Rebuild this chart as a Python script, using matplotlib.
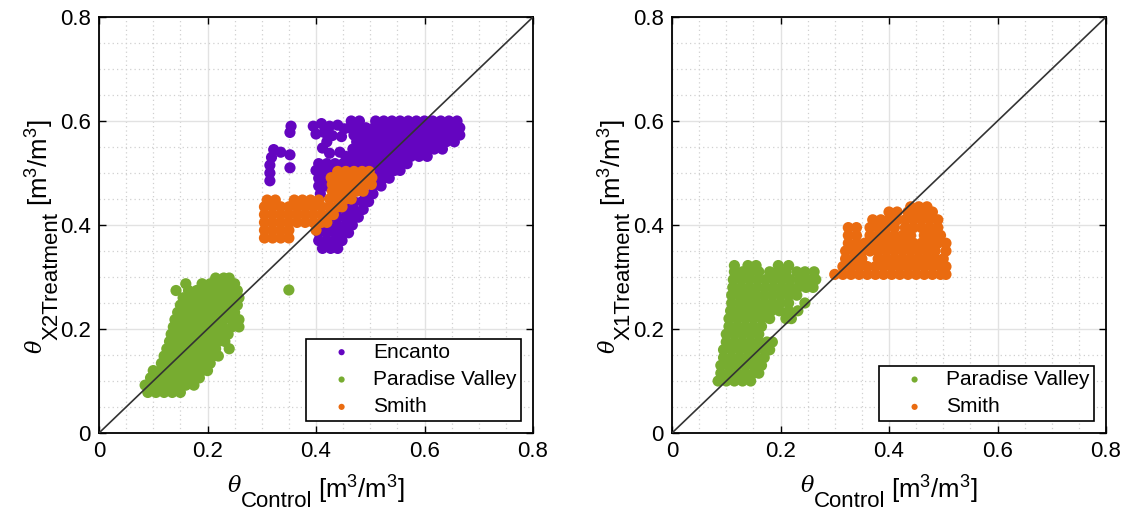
import matplotlib
matplotlib.use("Agg")
import matplotlib.pyplot as plt
from matplotlib.ticker import MultipleLocator, FormatStrFormatter
from matplotlib.transforms import IdentityTransform

plt.rcParams['font.family'] = ['Liberation Sans', 'DejaVu Sans']
plt.rcParams['mathtext.fontset'] = 'custom'
plt.rcParams['mathtext.rm'] = 'Liberation Sans'
plt.rcParams['mathtext.it'] = 'Liberation Sans:italic'

# soil moisture, control plot vs X2 treatment (m3/m3)
encanto_x2 = [
    # small column and stray points left of the main cloud
    (0.315, 0.485), (0.315, 0.500), (0.315, 0.515), (0.318, 0.530), (0.322, 0.545), (0.335, 0.540),
    (0.352, 0.510), (0.352, 0.535), (0.352, 0.578), (0.354, 0.590),
    # upper left group
    (0.395, 0.590), (0.410, 0.595), (0.425, 0.590), (0.440, 0.592), (0.452, 0.585),
    (0.400, 0.575), (0.415, 0.578), (0.430, 0.572), (0.447, 0.570),
    (0.412, 0.548), (0.425, 0.538), (0.444, 0.540), (0.420, 0.560),
    # main band
    (0.465, 0.600), (0.480, 0.600), (0.510, 0.600), (0.525, 0.600), (0.540, 0.600), (0.555, 0.600),
    (0.570, 0.600), (0.585, 0.600), (0.600, 0.600), (0.615, 0.600), (0.630, 0.600), (0.645, 0.600), (0.660, 0.600),
    (0.462, 0.587), (0.477, 0.587), (0.492, 0.587), (0.507, 0.587), (0.522, 0.587), (0.537, 0.587), (0.552, 0.587),
    (0.567, 0.587), (0.582, 0.587), (0.597, 0.587), (0.612, 0.587), (0.627, 0.587), (0.642, 0.587), (0.657, 0.587), (0.665, 0.587),
    (0.470, 0.573), (0.485, 0.573), (0.500, 0.573), (0.515, 0.573), (0.530, 0.573), (0.545, 0.573), (0.560, 0.573),
    (0.575, 0.573), (0.590, 0.573), (0.605, 0.573), (0.620, 0.573), (0.635, 0.573), (0.650, 0.573), (0.665, 0.573),
    (0.475, 0.560), (0.490, 0.560), (0.505, 0.560), (0.520, 0.560), (0.535, 0.560), (0.550, 0.560), (0.565, 0.560),
    (0.580, 0.560), (0.595, 0.560), (0.610, 0.560), (0.625, 0.560), (0.640, 0.560), (0.655, 0.560),
    (0.468, 0.546), (0.483, 0.546), (0.498, 0.546), (0.513, 0.546), (0.528, 0.546), (0.543, 0.546), (0.558, 0.546),
    (0.573, 0.546), (0.588, 0.546), (0.603, 0.546), (0.618, 0.546), (0.633, 0.546),
    (0.455, 0.532), (0.470, 0.532), (0.485, 0.532), (0.500, 0.532), (0.515, 0.532), (0.530, 0.532), (0.545, 0.532),
    (0.560, 0.532), (0.575, 0.532), (0.590, 0.532), (0.605, 0.532),
    (0.405, 0.518), (0.420, 0.518), (0.435, 0.518), (0.450, 0.518), (0.465, 0.518), (0.480, 0.518), (0.495, 0.518),
    (0.510, 0.518), (0.525, 0.518), (0.540, 0.518), (0.555, 0.518), (0.568, 0.518),
    (0.400, 0.505), (0.415, 0.505), (0.430, 0.505), (0.500, 0.505), (0.515, 0.505), (0.530, 0.505), (0.545, 0.505), (0.555, 0.505),
    (0.405, 0.490), (0.420, 0.490), (0.510, 0.490), (0.525, 0.490), (0.535, 0.490),
    (0.405, 0.475), (0.418, 0.475), (0.505, 0.475), (0.520, 0.475),
    (0.408, 0.460), (0.490, 0.460), (0.505, 0.460),
    # below the Smith points
    (0.455, 0.445), (0.470, 0.445), (0.485, 0.445), (0.497, 0.445),
    (0.440, 0.430), (0.455, 0.430), (0.470, 0.430), (0.487, 0.430),
    (0.425, 0.415), (0.440, 0.415), (0.455, 0.415), (0.468, 0.415), (0.478, 0.415),
    (0.410, 0.400), (0.425, 0.400), (0.440, 0.400), (0.455, 0.400), (0.467, 0.400),
    (0.405, 0.385), (0.420, 0.385), (0.435, 0.385), (0.450, 0.385), (0.460, 0.385),
    (0.405, 0.370), (0.420, 0.370), (0.435, 0.370), (0.448, 0.370),
    (0.412, 0.355), (0.427, 0.355), (0.440, 0.355),
]

paradise_x2 = [
    (0.090, 0.078), (0.105, 0.078), (0.120, 0.078), (0.135, 0.078), (0.150, 0.078),
    (0.085, 0.092), (0.100, 0.092), (0.115, 0.092), (0.130, 0.092), (0.145, 0.092), (0.160, 0.092), (0.175, 0.092),
    (0.095, 0.106), (0.110, 0.106), (0.125, 0.106), (0.140, 0.106), (0.155, 0.106), (0.170, 0.106), (0.185, 0.106),
    (0.100, 0.120), (0.115, 0.120), (0.130, 0.120), (0.145, 0.120), (0.160, 0.120), (0.175, 0.120), (0.190, 0.120), (0.200, 0.120),
    (0.115, 0.134), (0.130, 0.134), (0.145, 0.134), (0.160, 0.134), (0.175, 0.134), (0.190, 0.134), (0.205, 0.134),
    (0.120, 0.148), (0.135, 0.148), (0.150, 0.148), (0.165, 0.148), (0.180, 0.148), (0.195, 0.148), (0.210, 0.148), (0.220, 0.148),
    (0.125, 0.162), (0.140, 0.162), (0.155, 0.162), (0.170, 0.162), (0.185, 0.162), (0.200, 0.162), (0.215, 0.162), (0.240, 0.162),
    (0.130, 0.176), (0.145, 0.176), (0.160, 0.176), (0.175, 0.176), (0.190, 0.176), (0.205, 0.176), (0.220, 0.176), (0.232, 0.176),
    (0.133, 0.190), (0.148, 0.190), (0.163, 0.190), (0.178, 0.190), (0.193, 0.190), (0.208, 0.190), (0.223, 0.190), (0.238, 0.190),
    (0.137, 0.204), (0.152, 0.204), (0.167, 0.204), (0.182, 0.204), (0.197, 0.204), (0.212, 0.204), (0.227, 0.204), (0.245, 0.204), (0.258, 0.204),
    (0.140, 0.218), (0.155, 0.218), (0.170, 0.218), (0.185, 0.218), (0.200, 0.218), (0.215, 0.218), (0.230, 0.218), (0.245, 0.218), (0.258, 0.218),
    (0.145, 0.232), (0.160, 0.232), (0.175, 0.232), (0.190, 0.232), (0.205, 0.232), (0.220, 0.232), (0.235, 0.232), (0.250, 0.232),
    (0.150, 0.246), (0.165, 0.246), (0.180, 0.246), (0.195, 0.246), (0.210, 0.246), (0.225, 0.246), (0.240, 0.246), (0.255, 0.246),
    (0.155, 0.260), (0.170, 0.260), (0.185, 0.260), (0.200, 0.260), (0.215, 0.260), (0.230, 0.260), (0.245, 0.260), (0.258, 0.260),
    (0.142, 0.274), (0.165, 0.274), (0.180, 0.274), (0.195, 0.274), (0.210, 0.274), (0.225, 0.274), (0.240, 0.274), (0.255, 0.274),
    (0.160, 0.287), (0.190, 0.287), (0.205, 0.287), (0.220, 0.287), (0.235, 0.287), (0.250, 0.287),
    (0.215, 0.298), (0.230, 0.298), (0.240, 0.298),
    (0.350, 0.275),
]

smith_x2 = [
    (0.305, 0.375), (0.320, 0.375), (0.335, 0.375), (0.350, 0.375),
    (0.305, 0.390), (0.320, 0.390), (0.335, 0.390), (0.350, 0.390), (0.400, 0.390),
    (0.305, 0.405), (0.320, 0.405), (0.335, 0.405), (0.350, 0.405), (0.365, 0.405), (0.380, 0.405), (0.395, 0.405), (0.410, 0.405), (0.420, 0.405),
    (0.305, 0.420), (0.320, 0.420), (0.335, 0.420), (0.350, 0.420), (0.365, 0.420), (0.380, 0.420), (0.395, 0.420), (0.410, 0.420), (0.425, 0.420), (0.432, 0.420),
    (0.305, 0.435), (0.320, 0.435), (0.335, 0.435), (0.350, 0.435), (0.365, 0.435), (0.380, 0.435), (0.395, 0.435), (0.410, 0.435), (0.425, 0.435), (0.440, 0.435), (0.448, 0.435),
    (0.310, 0.448), (0.325, 0.448), (0.360, 0.448), (0.375, 0.448), (0.390, 0.448), (0.405, 0.448), (0.425, 0.450), (0.440, 0.450), (0.455, 0.450), (0.465, 0.450),
    (0.430, 0.465), (0.445, 0.465), (0.460, 0.465), (0.475, 0.465), (0.487, 0.465),
    (0.430, 0.478), (0.445, 0.478), (0.460, 0.478), (0.475, 0.478), (0.490, 0.478), (0.502, 0.478),
    (0.428, 0.491), (0.443, 0.491), (0.458, 0.491), (0.473, 0.491), (0.488, 0.491), (0.503, 0.491),
    (0.440, 0.503), (0.455, 0.503), (0.470, 0.503), (0.485, 0.503), (0.498, 0.503),
]

# control plot vs X1 treatment
paradise_x1 = [
    (0.085, 0.100), (0.100, 0.100), (0.115, 0.100), (0.130, 0.100), (0.145, 0.100),
    (0.090, 0.115), (0.105, 0.115), (0.120, 0.115), (0.135, 0.115), (0.150, 0.115), (0.160, 0.115),
    (0.090, 0.130), (0.105, 0.130), (0.120, 0.130), (0.135, 0.130), (0.150, 0.130), (0.165, 0.130),
    (0.095, 0.145), (0.110, 0.145), (0.125, 0.145), (0.140, 0.145), (0.155, 0.145), (0.170, 0.145),
    (0.095, 0.160), (0.110, 0.160), (0.125, 0.160), (0.140, 0.160), (0.155, 0.160), (0.170, 0.160), (0.180, 0.160),
    (0.100, 0.175), (0.115, 0.175), (0.130, 0.175), (0.145, 0.175), (0.160, 0.175), (0.175, 0.175), (0.185, 0.175),
    (0.100, 0.190), (0.115, 0.190), (0.130, 0.190), (0.145, 0.190), (0.160, 0.190),
    (0.105, 0.205), (0.120, 0.205), (0.135, 0.205), (0.150, 0.205), (0.165, 0.205),
    (0.105, 0.220), (0.120, 0.220), (0.135, 0.220), (0.150, 0.220), (0.165, 0.220), (0.180, 0.220), (0.210, 0.220), (0.220, 0.220),
    (0.108, 0.235), (0.123, 0.235), (0.138, 0.235), (0.153, 0.235), (0.168, 0.235), (0.183, 0.235), (0.198, 0.235), (0.215, 0.235), (0.232, 0.235),
    (0.110, 0.250), (0.125, 0.250), (0.140, 0.250), (0.155, 0.250), (0.170, 0.250), (0.185, 0.250), (0.200, 0.250), (0.215, 0.250), (0.245, 0.250),
    (0.110, 0.265), (0.125, 0.265), (0.140, 0.265), (0.155, 0.265), (0.170, 0.265), (0.185, 0.265), (0.200, 0.265), (0.215, 0.265), (0.230, 0.265),
    (0.112, 0.280), (0.127, 0.280), (0.142, 0.280), (0.157, 0.280), (0.172, 0.280), (0.187, 0.280), (0.202, 0.280), (0.217, 0.280), (0.232, 0.280), (0.247, 0.280), (0.260, 0.280),
    (0.113, 0.295), (0.128, 0.295), (0.143, 0.295), (0.158, 0.295), (0.173, 0.295), (0.188, 0.295), (0.203, 0.295), (0.218, 0.295), (0.235, 0.295), (0.250, 0.295), (0.265, 0.295),
    (0.115, 0.310), (0.130, 0.310), (0.145, 0.310), (0.160, 0.310), (0.180, 0.310), (0.195, 0.310), (0.210, 0.310), (0.230, 0.310), (0.245, 0.310), (0.262, 0.310),
    (0.115, 0.322), (0.140, 0.322), (0.155, 0.322), (0.196, 0.322), (0.215, 0.322),
]

smith_x1 = [
    (0.300, 0.305), (0.315, 0.305), (0.330, 0.305), (0.345, 0.305), (0.360, 0.305), (0.375, 0.305), (0.390, 0.305), (0.405, 0.305),
    (0.420, 0.305), (0.435, 0.305), (0.450, 0.305), (0.465, 0.305), (0.480, 0.305), (0.495, 0.305), (0.505, 0.305),
    (0.315, 0.320), (0.330, 0.320), (0.345, 0.320), (0.360, 0.320), (0.375, 0.320), (0.390, 0.320), (0.405, 0.320),
    (0.420, 0.320), (0.435, 0.320), (0.450, 0.320), (0.465, 0.320), (0.480, 0.320), (0.495, 0.320), (0.505, 0.320),
    (0.320, 0.335), (0.335, 0.335), (0.350, 0.335), (0.380, 0.335), (0.395, 0.335), (0.410, 0.335), (0.425, 0.335),
    (0.440, 0.335), (0.455, 0.335), (0.470, 0.335), (0.485, 0.335), (0.500, 0.335),
    (0.320, 0.350), (0.335, 0.350), (0.350, 0.350), (0.365, 0.350), (0.380, 0.350), (0.395, 0.350), (0.410, 0.350),
    (0.425, 0.350), (0.440, 0.350), (0.455, 0.350), (0.470, 0.350), (0.485, 0.350), (0.505, 0.350),
    (0.325, 0.365), (0.340, 0.365), (0.355, 0.365), (0.370, 0.365), (0.385, 0.365), (0.400, 0.365), (0.415, 0.365),
    (0.430, 0.365), (0.445, 0.365), (0.460, 0.365), (0.475, 0.365), (0.490, 0.365), (0.505, 0.365),
    (0.325, 0.380), (0.340, 0.380), (0.365, 0.380), (0.380, 0.380), (0.395, 0.380), (0.410, 0.380), (0.425, 0.380),
    (0.440, 0.380), (0.465, 0.380), (0.480, 0.380), (0.495, 0.380),
    (0.325, 0.395), (0.340, 0.395), (0.365, 0.395), (0.380, 0.395), (0.395, 0.395), (0.410, 0.395), (0.430, 0.395),
    (0.445, 0.395), (0.460, 0.395), (0.475, 0.395), (0.490, 0.395),
    (0.370, 0.410), (0.385, 0.410), (0.400, 0.410), (0.415, 0.410), (0.430, 0.410), (0.445, 0.410), (0.460, 0.410), (0.475, 0.410), (0.490, 0.410),
    (0.400, 0.425), (0.415, 0.425), (0.435, 0.425), (0.450, 0.425), (0.465, 0.425), (0.480, 0.425),
    (0.440, 0.435), (0.455, 0.435), (0.470, 0.435),
]

c_encanto = '#6405c0'
c_paradise = '#77ac30'
c_smith = '#ea6b10'

ticks = [0, 0.2, 0.4, 0.6, 0.8]
unit = r'[m$^{\mathrm{3}}$/m$^{\mathrm{3}}$]'

W, H = 1129, 522
fig = plt.figure(figsize=(W / 100, H / 100), dpi=100)
ax1 = fig.add_axes([99 / W, 89 / H, 434 / W, 416 / H])
ax2 = fig.add_axes([672 / W, 89 / H, 434 / W, 416 / H])


def style_axes(ax):
    ax.set_xlim(0, 0.8)
    ax.set_ylim(0, 0.8)
    ax.set_xticks(ticks)
    ax.set_yticks(ticks)
    ax.xaxis.set_major_formatter(FormatStrFormatter('%g'))
    ax.yaxis.set_major_formatter(FormatStrFormatter('%g'))
    ax.xaxis.set_minor_locator(MultipleLocator(0.05))
    ax.yaxis.set_minor_locator(MultipleLocator(0.05))
    ax.tick_params(which='major', direction='in', top=True, right=True, length=5, width=1.0, labelsize=16, pad=6)
    ax.tick_params(which='minor', length=0, top=True, right=True)
    ax.grid(which='major', color='#e2e2e2', lw=1.0, ls='-')
    ax.grid(which='minor', color='#d0d0d0', lw=0.9, ls=(0, (1, 2.5)))
    ax.set_axisbelow(True)
    for sp in ax.spines.values():
        sp.set_linewidth(1.3)
    ax.plot([0, 0.8], [0, 0.8], color='#333333', lw=1.2, zorder=5)


def draw(ax, pts, color, label):
    xs = [p[0] for p in pts]
    ys = [p[1] for p in pts]
    ax.scatter(xs, ys, s=65, color=color, edgecolors='none', label=label, zorder=3)


# axis label built from pieces: theta, large subscript, units
def axis_label(sub, center, base, vertical):
    renderer = fig.canvas.get_renderer()
    pieces = [
        ('θ', 16, 'DejaVu Serif', 'italic', -7, 0),
        (sub, 16, 'Liberation Sans', 'normal', 8, 6),
        (unit, 18.5, 'Liberation Sans', 'normal', 0, 0),
    ]
    placed = []
    total = 0
    for s, size, fam, style, shift, gap in pieces:
        t = fig.text(0, 0, s, fontsize=size, family=fam, style=style, transform=IdentityTransform(),
                     ha='left', va='baseline', rotation_mode='anchor')
        w = t.get_window_extent(renderer).width
        placed.append((t, w, shift, gap))
        total += w + gap
    pos = center - total / 2
    for t, w, shift, gap in placed:
        if vertical:
            t.set_rotation(90)
            t.set_position((base + shift, pos))
        else:
            t.set_position((pos, base - shift))
        pos += w + gap


draw(ax1, encanto_x2, c_encanto, 'Encanto')
draw(ax1, paradise_x2, c_paradise, 'Paradise Valley')
draw(ax1, smith_x2, c_smith, 'Smith')
style_axes(ax1)

draw(ax2, paradise_x1, c_paradise, 'Paradise Valley')
draw(ax2, smith_x1, c_smith, 'Smith')
style_axes(ax2)

for ax in (ax1, ax2):
    leg = ax.legend(loc='lower right', fontsize=15, markerscale=0.55, fancybox=False, framealpha=1,
                    edgecolor='black', borderpad=0.2, labelspacing=0.4, handletextpad=0.0,
                    handlelength=3.0, borderaxespad=0.6)
    leg.get_frame().set_linewidth(1.2)

axis_label('Control', 316, H - 499, False)
axis_label('X2Treatment', H - 236, 49, True)
axis_label('Control', 889, H - 499, False)
axis_label('X1Treatment', H - 236, 49 + 573, True)

fig.savefig('out.png', dpi=100)
